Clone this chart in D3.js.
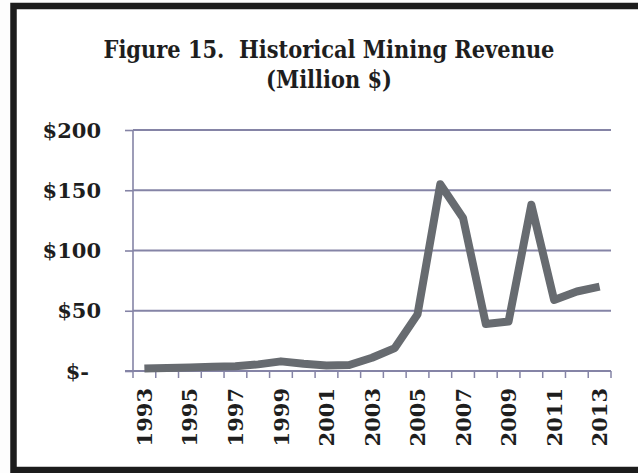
<!DOCTYPE html>
<html>
<head>
<meta charset="utf-8">
<script src="https://cdn.jsdelivr.net/npm/d3@7"></script>
<style>
  html, body { margin: 0; padding: 0; background: #ffffff; }
  svg { display: block; }
</style>
</head>
<body>
<script>
// Mining revenue by year, million dollars
const years = ["1993","1994","1995","1996","1997","1998","1999","2000","2001","2002","2003",
               "2004","2005","2006","2007","2008","2009","2010","2011","2012","2013"];
const revenue = [2, 2.5, 3, 3.5, 4, 5.5, 8, 6, 4.5, 5, 11, 19, 47, 155, 127, 39, 41, 138, 59, 66, 70];
const yTicks = [0, 50, 100, 150, 200];
const yTickLabels = ["$-", "$50", "$100", "$150", "$200"];
const xTickLabels = ["1993","1995","1997","1999","2001","2003","2005","2007","2009","2011","2013"];
const titleLines = ["Figure 15.  Historical Mining Revenue", "(Million $)"];

const W = 638, H = 473;
const plot = { left: 133, right: 611, top: 130, bottom: 371 };
const serif = "'DejaVu Serif', 'Liberation Serif', serif";
const gridColor = "#8584a6";

const svg = d3.select("body").append("svg")
  .attr("width", W).attr("height", H);

svg.append("rect").attr("width", W).attr("height", H).attr("fill", "#fdfdfd");

// Outer frame
svg.append("rect")
  .attr("x", 13.5).attr("y", 6).attr("width", 640).attr("height", 464)
  .attr("fill", "#ffffff").attr("stroke", "#1c1c1c").attr("stroke-width", 6.5);

// Title
svg.append("g").selectAll("text").data(titleLines).join("text")
  .attr("x", 329).attr("y", (d, i) => 58 + i * 30)
  .attr("text-anchor", "middle")
  .style("white-space", "pre")
  .attr("font-family", "'DejaVu Serif Condensed', 'DejaVu Serif', serif")
  .attr("font-weight", "bold").attr("font-size", 23.3)
  .attr("fill", "#1e1e1e")
  .text(d => d);

const x = d3.scaleBand().domain(years).range([plot.left, plot.right]).padding(0);
const y = d3.scaleLinear().domain([0, 200]).range([plot.bottom, plot.top]);

// Horizontal gridlines with left tick stubs
svg.append("g")
  .attr("transform", `translate(${plot.left},0)`)
  .call(d3.axisLeft(y).tickValues(yTicks).tickSize(8).tickFormat(""))
  .call(g => g.select(".domain").remove())
  .call(g => g.selectAll("line").attr("stroke", gridColor).attr("stroke-width", 1.6));

svg.append("g").selectAll("line").data(yTicks.filter(v => v > 0)).join("line")
  .attr("x1", plot.left).attr("x2", plot.right)
  .attr("y1", d => y(d)).attr("y2", d => y(d))
  .attr("stroke", gridColor).attr("stroke-width", 1.8);

// Y labels
svg.append("g").selectAll("text").data(yTicks).join("text")
  .attr("x", (d, i) => yTickLabels[i] === "$-" ? 89 : 101)
  .attr("y", d => y(d))
  .attr("dy", "0.36em")
  .attr("text-anchor", "end")
  .attr("font-family", serif).attr("font-weight", "bold").attr("font-size", 21)
  .attr("fill", "#1e1e1e")
  .text((d, i) => yTickLabels[i]);

// Y axis line
svg.append("line")
  .attr("x1", plot.left).attr("x2", plot.left)
  .attr("y1", plot.top).attr("y2", plot.bottom)
  .attr("stroke", gridColor).attr("stroke-width", 1.6);

// X axis: baseline plus ticks at category boundaries
const bounds = years.map(d => x(d)).concat([x(years[years.length - 1]) + x.bandwidth()]);
svg.append("line")
  .attr("x1", plot.left - 8).attr("x2", plot.right)
  .attr("y1", plot.bottom).attr("y2", plot.bottom)
  .attr("stroke", gridColor).attr("stroke-width", 1.8);
svg.append("g").selectAll("line").data(bounds).join("line")
  .attr("x1", d => d).attr("x2", d => d)
  .attr("y1", plot.bottom).attr("y2", plot.bottom + 7)
  .attr("stroke", gridColor).attr("stroke-width", 1.5);

// X labels, rotated
svg.append("g").selectAll("text").data(xTickLabels).join("text")
  .attr("transform", d => `translate(${x(d) + x.bandwidth() / 2},388) rotate(-90)`)
  .attr("dy", "0.36em")
  .attr("text-anchor", "end")
  .attr("font-family", serif).attr("font-weight", "bold").attr("font-size", 21)
  .attr("fill", "#1e1e1e")
  .text(d => d);

// Revenue line
const line = d3.line()
  .x((d, i) => x(years[i]) + x.bandwidth() / 2)
  .y(d => y(d));

svg.append("path")
  .datum(revenue)
  .attr("d", line)
  .attr("fill", "none")
  .attr("stroke", "#676b70")
  .attr("stroke-width", 8)
  .attr("stroke-linejoin", "round")
  .attr("stroke-linecap", "butt");
</script>
</body>
</html>
